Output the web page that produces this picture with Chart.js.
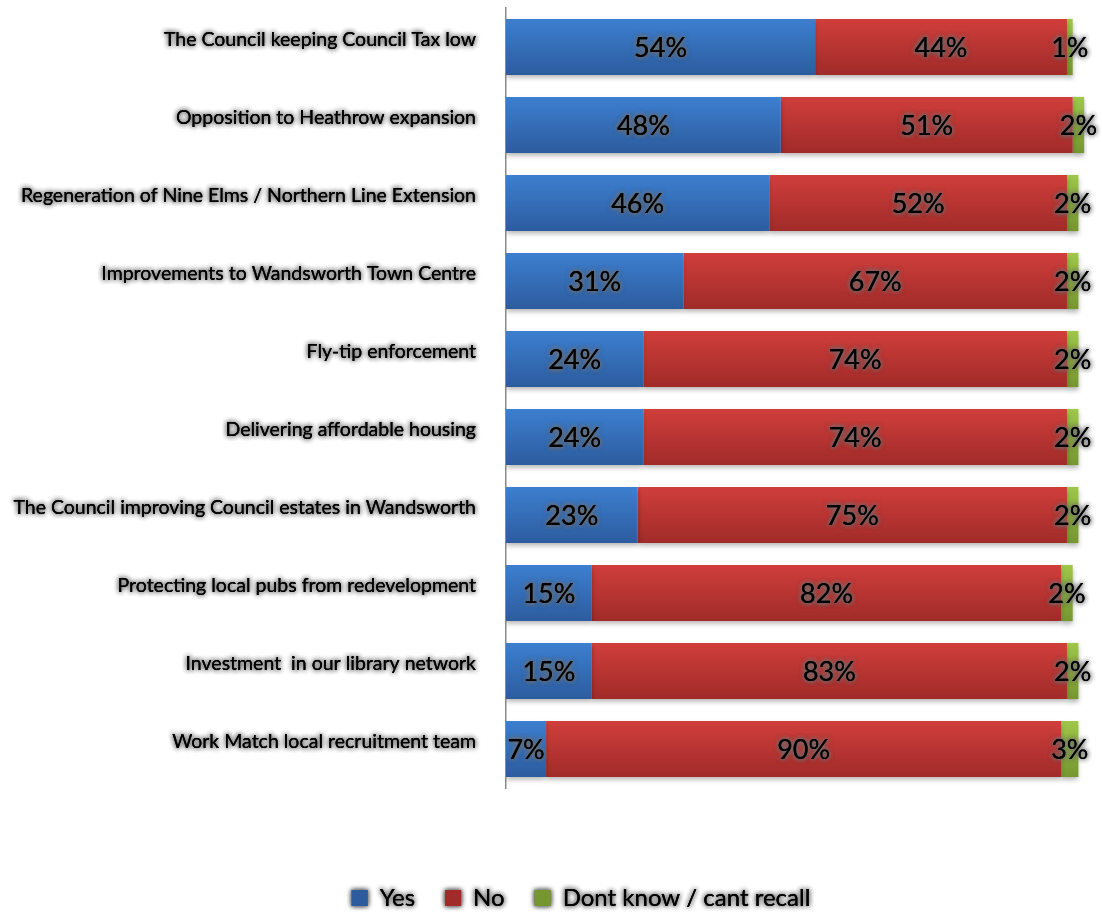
<!DOCTYPE html>
<html>
<head>
<meta charset="utf-8">
<script src="https://cdn.jsdelivr.net/npm/chart.js@4/dist/chart.umd.min.js"></script>
<style>
  html, body { margin: 0; padding: 0; background: #fff; }
  #wrap { width: 1102px; height: 913px; }
</style>
</head>
<body>
<div id="wrap"><canvas id="barCanvas" width="1102" height="913"></canvas></div>
<script>
const categories = [
    'The Council keeping Council Tax low',
    'Opposition to Heathrow expansion',
    'Regeneration of Nine Elms / Northern Line Extension',
    'Improvements to Wandsworth Town Centre',
    'Fly-tip enforcement',
    'Delivering affordable housing',
    'The Council improving Council estates in Wandsworth',
    'Protecting local pubs from redevelopment',
    'Investment  in our library network',
    'Work Match local recruitment team'
];
const yesValues = [54, 48, 46, 31, 24, 24, 23, 15, 15, 7];
const noValues = [44, 51, 52, 67, 74, 74, 75, 82, 83, 90];
const dontKnowValues = [1, 2, 2, 2, 2, 2, 2, 2, 2, 3];
const seriesNames = ['Yes', 'No', 'Dont know / cant recall'];

const FONT = 'Lato, "Open Sans", sans-serif';
const BAR_PCT = 0.72;

// degradé vertical par barre (style Excel)
function barFill(top, bottom, flat) {
    return (c) => {
        const chart = c.chart;
        if (!chart.chartArea || c.dataIndex === undefined) return flat;
        const y = chart.scales.y;
        const cy = y.getPixelForValue(c.dataIndex);
        const step = Math.abs(y.getPixelForValue(1) - y.getPixelForValue(0));
        const h = step * BAR_PCT / 2;
        const g = chart.ctx.createLinearGradient(0, cy - h, 0, cy + h);
        g.addColorStop(0, top);
        g.addColorStop(1, bottom);
        return g;
    };
}

// texte avec halo gris, dessiné plusieurs fois pour renforcer
function withGlow(ctx, fn) {
    ctx.save();
    ctx.shadowColor = 'rgba(110,110,110,0.9)';
    ctx.shadowBlur = 5;
    ctx.shadowOffsetX = 0;
    ctx.shadowOffsetY = 0;
    fn();
    fn();
    fn();
    ctx.restore();
}

const glowPlugin = {
    id: 'glow',
    afterUpdate(chart) {
        const ys = chart.scales.y;
        if (ys && !ys._glow) {
            const orig = ys.drawLabels.bind(ys);
            ys._computeLabelArea = () => undefined;
            ys.drawLabels = (area) => withGlow(ys.ctx, () => orig(area));
            ys._glow = true;
        }
        const lg = chart.legend;
        if (lg && !lg._glow) {
            const orig = lg.draw.bind(lg);
            lg.draw = () => withGlow(lg.ctx, () => orig());
            lg._glow = true;
        }
    },
    beforeDatasetsDraw(chart) {
        const ctx = chart.ctx;
        ctx.save();
        ctx.shadowColor = 'rgba(0,0,0,0.3)';
        ctx.shadowBlur = 5;
        ctx.shadowOffsetY = 3;
    },
    afterDatasetsDraw(chart) {
        const ctx = chart.ctx;
        ctx.restore();
        // étiquettes de valeurs
        withGlow(ctx, () => {
            ctx.font = '27px ' + FONT;
            ctx.fillStyle = '#000';
            ctx.textAlign = 'center';
            ctx.textBaseline = 'middle';
            chart.data.datasets.forEach((ds, di) => {
                const meta = chart.getDatasetMeta(di);
                meta.data.forEach((el, i) => {
                    const { x, base, y } = el.getProps(['x', 'base', 'y'], true);
                    ctx.fillText(ds.data[i] + '%', (x + base) / 2, y + 1);
                });
            });
        });
    }
};

const ctx = document.getElementById('barCanvas').getContext('2d');
const barChart = new Chart(ctx, {
    type: 'bar',
    data: {
        labels: categories,
        datasets: [
            {
                label: seriesNames[0],
                data: yesValues,
                backgroundColor: barFill('#3d7fd0', '#2c5c9e', '#3670b8')
            },
            {
                label: seriesNames[1],
                data: noValues,
                backgroundColor: barFill('#d03e3b', '#a02b29', '#c03835')
            },
            {
                label: seriesNames[2],
                data: dontKnowValues,
                backgroundColor: barFill('#9fc748', '#76962f', '#8cb23c')
            }
        ]
    },
    options: {
        indexAxis: 'y',
        responsive: false,
        animation: false,
        events: [],
        barPercentage: BAR_PCT,
        categoryPercentage: 1,
        layout: {
            padding: { top: 8, right: 15, left: 75, bottom: -7 }
        },
        plugins: {
            legend: {
                display: true,
                position: 'bottom',
                labels: {
                    color: '#000',
                    font: { family: FONT, size: 24 },
                    boxWidth: 16,
                    boxHeight: 16,
                    padding: 30
                }
            },
            title: { display: false },
            tooltip: { enabled: false }
        },
        scales: {
            x: {
                stacked: true,
                min: 0,
                max: 101.5,
                display: true,
                grid: { display: false },
                border: { display: false },
                ticks: { display: false },
                afterFit: (s) => { s.height = 68; }
            },
            y: {
                stacked: true,
                grid: { display: false, drawTicks: false },
                border: { display: true, color: '#8a8a8a', width: 1.5 },
                ticks: {
                    color: '#000',
                    font: { family: FONT, size: 19.5 },
                    padding: 30,
                    labelOffset: -7,
                    autoSkip: false
                },
                afterFit: (s) => {
                    s.width = 431;
                    s.paddingTop = 0;
                    s.paddingBottom = 0;
                }
            }
        }
    },
    plugins: [glowPlugin]
});
</script>
</body>
</html>
